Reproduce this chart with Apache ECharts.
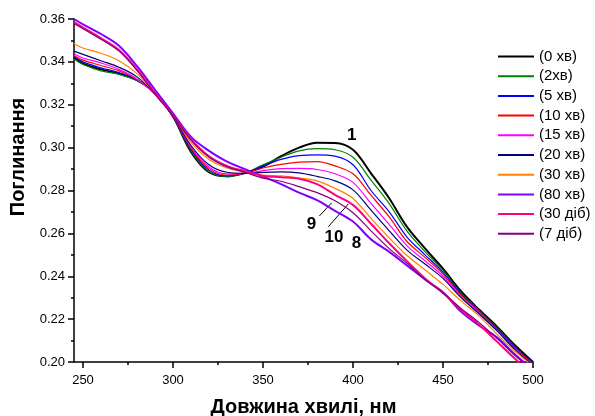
<!DOCTYPE html>
<html>
<head>
<meta charset="utf-8">
<script src="https://cdn.jsdelivr.net/npm/echarts@6/dist/echarts.min.js"></script>
<style>
html,body{margin:0;padding:0;background:#fff;}
#chart{width:595px;height:416px;}
</style>
</head>
<body>
<div id="chart"></div>
<script>
// Wavelengths (nm)
const wavelengths = [245,250,260,270,280,290,300,310,320,330,340,350,360,370,380,390,400,410,420,430,440,450,460,470,480,490,500];

// Absorbance series
const min0  = [0.3422,0.3392,0.3365,0.3345,0.3315,0.3255,0.3145,0.2980,0.2885,0.2866,0.2882,0.2911,0.2960,0.3000,0.3023,0.3022,0.2990,0.2880,0.2765,0.2630,0.2530,0.2435,0.2330,0.2245,0.2165,0.2078,0.2000];
const min2  = [0.3413,0.3388,0.3358,0.3342,0.3312,0.3253,0.3145,0.2985,0.2888,0.2865,0.2882,0.2920,0.2955,0.2985,0.2995,0.2990,0.2955,0.2848,0.2740,0.2610,0.2515,0.2427,0.2322,0.2242,0.2160,0.2072,0.1995];
const min5  = [0.3425,0.3400,0.3372,0.3350,0.3315,0.3252,0.3146,0.2992,0.2895,0.2868,0.2882,0.2915,0.2945,0.2963,0.2966,0.2960,0.2920,0.2800,0.2702,0.2583,0.2500,0.2418,0.2317,0.2238,0.2155,0.2070,0.1993];
const min10 = [0.3430,0.3408,0.3383,0.3358,0.3318,0.3250,0.3147,0.2998,0.2902,0.2872,0.2882,0.2905,0.2922,0.2932,0.2935,0.2915,0.2878,0.2778,0.2678,0.2562,0.2488,0.2410,0.2312,0.2235,0.2150,0.2065,0.1990];
const min15 = [0.3438,0.3418,0.3395,0.3365,0.3320,0.3250,0.3148,0.3005,0.2910,0.2878,0.2880,0.2893,0.2902,0.2903,0.2898,0.2878,0.2838,0.2740,0.2643,0.2542,0.2472,0.2400,0.2306,0.2230,0.2148,0.2060,0.1988];
const min20 = [0.3450,0.3435,0.3405,0.3375,0.3330,0.3250,0.3148,0.3010,0.2920,0.2885,0.2880,0.2885,0.2887,0.2882,0.2866,0.2845,0.2803,0.2708,0.2613,0.2522,0.2457,0.2390,0.2300,0.2225,0.2145,0.2058,0.1985];
const min30 = [0.3485,0.3465,0.3440,0.3405,0.3345,0.3250,0.3150,0.3025,0.2945,0.2905,0.2885,0.2872,0.2868,0.2858,0.2845,0.2810,0.2763,0.2670,0.2580,0.2497,0.2430,0.2362,0.2285,0.2215,0.2130,0.2050,0.1980];
const min80 = [0.3600,0.3575,0.3530,0.3475,0.3380,0.3270,0.3160,0.3050,0.2985,0.2935,0.2900,0.2865,0.2830,0.2790,0.2755,0.2705,0.2655,0.2572,0.2515,0.2450,0.2385,0.2325,0.2235,0.2170,0.2115,0.2035,0.1965];
const day30 = [0.3585,0.3560,0.3510,0.3455,0.3365,0.3255,0.3150,0.3040,0.2960,0.2915,0.2890,0.2868,0.2862,0.2855,0.2830,0.2780,0.2733,0.2645,0.2555,0.2470,0.2390,0.2322,0.2245,0.2175,0.2095,0.2015,0.1940];
const day7  = [0.3578,0.3555,0.3505,0.3450,0.3360,0.3250,0.3148,0.3035,0.2955,0.2910,0.2885,0.2858,0.2843,0.2818,0.2790,0.2752,0.2696,0.2612,0.2530,0.2460,0.2385,0.2322,0.2250,0.2185,0.2110,0.2030,0.1960];

const seriesNames = ['(0 хв)','(2хв)','(5 хв)','(10 хв)','(15 хв)','(20 хв)','(30 хв)','(80 хв)','(30 діб)','(7 діб)'];
const seriesValues = [min0,min2,min5,min10,min15,min20,min30,min80,day30,day7];

// Axis ticks
const xMajorTicks = [250,300,350,400,450,500];
const xMinorTicks = [275,325,375,425,475];

const colors = ['#000000','#008000','#0000ff','#ff0000','#ff00ff','#000080','#ff8000','#8000ff','#ff0080','#800080'];
const widths = [2,1.2,1.2,1.2,1.2,1.2,1.2,2,2,1.2];
const FONT = 'Liberation Sans, Arial, Helvetica, sans-serif';

const chart = echarts.init(document.getElementById('chart'), null, {renderer:'canvas'});

const series = seriesNames.map((name, i) => ({
  name: name,
  type: 'line',
  xAxisIndex: 0,
  yAxisIndex: 0,
  data: wavelengths.map((w, j) => [w, seriesValues[i][j]]),
  smooth: 0.35,
  symbol: 'none',
  clip: true,
  z: 2 + i,
  lineStyle: { color: colors[i], width: widths[i] },
  itemStyle: { color: colors[i] }
}));

// annotations on the first series
series[0].markPoint = {
  symbol: 'circle',
  symbolSize: 1,
  silent: true,
  itemStyle: { color: 'rgba(0,0,0,0)' },
  label: { show: true, position: 'inside', color: '#000', fontSize: 17, fontWeight: 'bold', fontFamily: FONT, formatter: p => p.name },
  data: [
    { name: '1',  coord: [399.3, 0.3058] },
    { name: '9',  coord: [377.0, 0.2643] },
    { name: '10', coord: [389.4, 0.2582] },
    { name: '8',  coord: [402.0, 0.2553] }
  ]
};
series[0].markLine = {
  symbol: ['none','none'],
  silent: true,
  label: { show: false },
  lineStyle: { color: '#000', width: 1, type: 'solid' },
  data: [
    [{ coord: [381.3, 0.2681] }, { coord: [388.2, 0.2743] }],
    [{ coord: [386.3, 0.2631] }, { coord: [397.4, 0.2737] }]
  ]
};

const option = {
  animation: false,
  backgroundColor: '#ffffff',
  grid: { left: 74, right: 62, top: 19, bottom: 54, containLabel: false, outerBoundsMode: 'none' },
  legend: {
    orient: 'vertical',
    left: 493,
    top: 44,
    icon: 'rect',
    itemWidth: 36,
    itemHeight: 2,
    itemGap: 4.7,
    data: seriesNames,
    textStyle: { fontSize: 15, lineHeight: 14, color: '#000', fontFamily: FONT }
  },
  xAxis: [{
    type: 'value',
    min: 245,
    max: 500,
    name: 'Довжина хвилі, нм',
    nameLocation: 'middle',
    nameGap: 35,
    nameTextStyle: { fontSize: 20, fontWeight: 'bold', color: '#000', fontFamily: FONT },
    axisLine: { show: true, onZero: false, lineStyle: { color: '#000', width: 1.5 } },
    axisTick: { show: true, length: 6, customValues: xMajorTicks, lineStyle: { color: '#000', width: 1.5 } },
    axisLabel: { show: true, customValues: xMajorTicks, margin: 12, fontSize: 13, color: '#000', fontFamily: FONT },
    splitLine: { show: false }
  }, {
    type: 'value',
    min: 245,
    max: 500,
    position: 'bottom',
    axisLine: { show: false },
    axisTick: { show: true, length: 3, customValues: xMinorTicks, lineStyle: { color: '#000', width: 1.5 } },
    axisLabel: { show: false },
    splitLine: { show: false }
  }],
  yAxis: {
    type: 'value',
    min: 0.2,
    max: 0.36,
    interval: 0.02,
    name: 'Поглинання',
    nameLocation: 'middle',
    nameGap: 44,
    nameTextStyle: { fontSize: 20, fontWeight: 'bold', color: '#000', fontFamily: FONT, padding: [0, 0, 0, 67] },
    axisLine: { show: true, onZero: false, lineStyle: { color: '#000', width: 1.5 } },
    axisTick: { show: true, length: 6, lineStyle: { color: '#000', width: 1.5 } },
    minorTick: { show: true, splitNumber: 2, length: 3, lineStyle: { color: '#000', width: 1.5 } },
    axisLabel: { margin: 9, fontSize: 13, color: '#000', fontFamily: FONT, formatter: v => v.toFixed(2) },
    splitLine: { show: false },
    minorSplitLine: { show: false }
  },
  series: series
};
chart.setOption(option);
</script>
</body>
</html>
